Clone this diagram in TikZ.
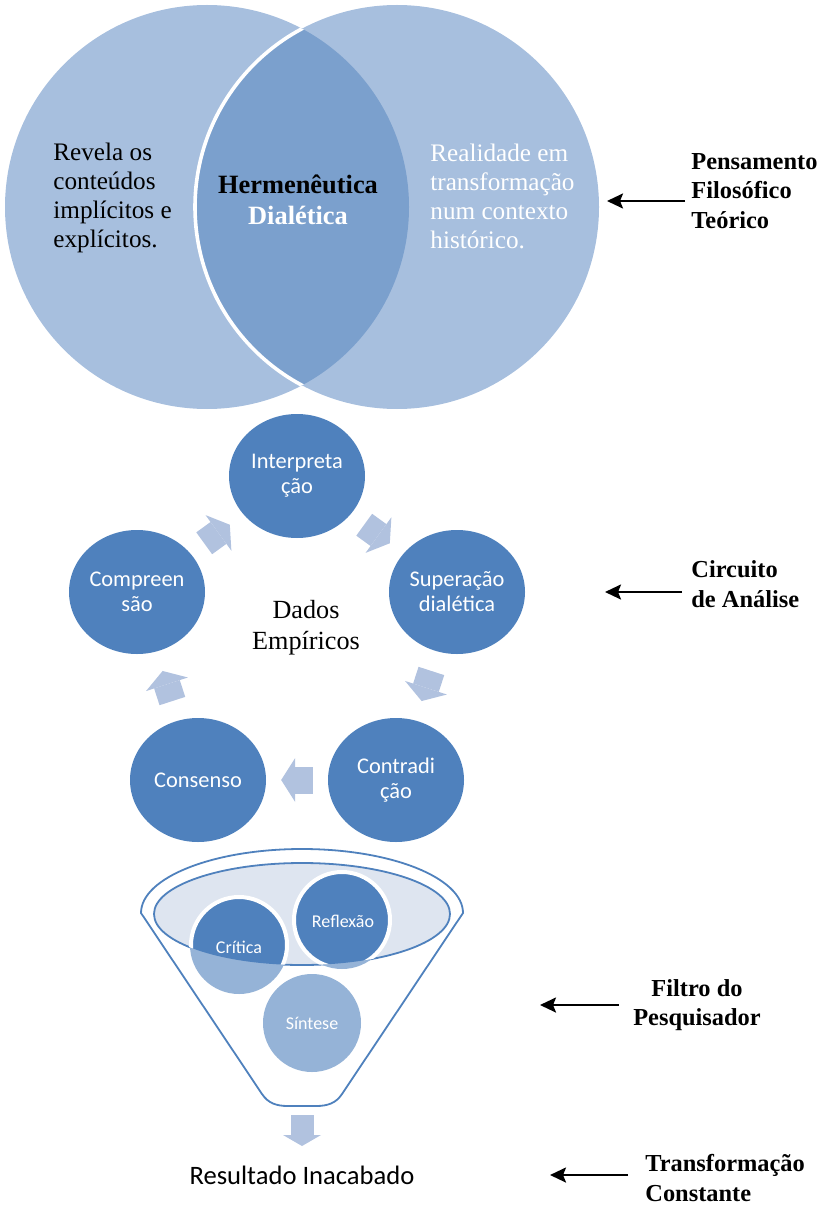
\documentclass[tikz,border=0pt]{standalone}
\usepackage{fontspec}
\setmainfont{Liberation Serif}
\newfontfamily\calibri{Carlito}
\usetikzlibrary{shapes.geometric,arrows.meta,calc,positioning}
\definecolor{vennlight}{RGB}{167,191,222}
\definecolor{venndark}{RGB}{123,160,205}
\definecolor{cycblue}{RGB}{79,129,189}
\definecolor{arrblue}{RGB}{177,194,223}
\definecolor{funlight}{RGB}{149,179,215}
\definecolor{funfill}{RGB}{222,229,240}
\tikzstyle{venntext} = [align=left, anchor=west, inner sep=0pt, font=\fontsize{12.6}{14.5}\selectfont]
\tikzstyle{cyc} = [ellipse, minimum width=68pt, minimum height=62pt, inner sep=0pt, fill=cycblue, text=white, align=center, font=\calibri\fontsize{11.2}{12.5}\selectfont]
\tikzstyle{blockarr} = [arrblue, line width=13.5pt, -{Triangle[length=7pt,width=22pt,line width=0pt]}]
\tikzstyle{downarr} = [arrblue, line width=11.5pt, -{Triangle[length=5.5pt,width=19pt,line width=0pt]}]
\tikzstyle{funline} = [draw=cycblue, line width=0.9pt]
\tikzstyle{filtro} = [text=white, inner sep=0pt, font=\calibri\fontsize{9}{11}\selectfont]
\tikzstyle{rlabel} = [anchor=west, inner sep=0pt, font=\bfseries\fontsize{12.2}{14.7}\selectfont]
\tikzstyle{arrow} = [line width=1.2pt, -{Stealth[length=8pt,width=7.5pt,inset=1.5pt]}]

\begin{document}
\begin{tikzpicture}[x=0.5pt, y=-0.5pt]
\useasboundingbox (0,0) rectangle (828,1208);

\fill[vennlight] (207,207) circle (202);
\fill[vennlight] (397,207) circle (202);
\begin{scope}
\clip (207,207) circle (202);
\fill[venndark] (397,207) circle (202);
\draw[white, line width=1.8pt] (397,207) circle (202);
\end{scope}

\node (revela) [venntext] at (53,198) {Revela os\\conteúdos\\implícitos e\\explícitos.};
\node (realid) [venntext, text=white] at (430,196) {Realidade em\\transformação\\num contexto\\histórico.};
\node (herm) [align=center, inner sep=0pt, font=\bfseries\fontsize{13.2}{15.5}\selectfont] at (298,200) {Hermenêutica\\\textcolor{white}{Dialética}};

\node (int) [cyc] at (297,476) {Interpreta\\ção};
\node (cmp) [cyc] at (137,592) {Compreen\\são};
\node (sup) [cyc] at (457,592) {Superação\\dialética};
\node (cns) [cyc] at (198,780) {Consenso};
\node (ctr) [cyc] at (396,780) {Contradi\\ção};
\node (dados) [align=center, inner sep=0pt, font=\fontsize{13.1}{15.5}\selectfont] at (306,628) {Dados\\Empíricos};

\draw [blockarr] ($(cmp)!0.42!(int)$) -- ($(cmp)!0.58!(int)$);
\draw [blockarr] ($(int)!0.42!(sup)$) -- ($(int)!0.58!(sup)$);
\draw [blockarr] ($(sup)!0.42!(ctr)$) -- ($(sup)!0.58!(ctr)$);
\draw [blockarr] ($(ctr)!0.42!(cns)$) -- ($(ctr)!0.58!(cns)$);
\draw [blockarr] ($(cns)!0.42!(cmp)$) -- ($(cns)!0.58!(cmp)$);

\draw [funline, fill=white] (141,913) -- (262,1094) .. controls (268,1103) and (276,1106) .. (288,1106) -- (316,1106) .. controls (328,1106) and (336,1103) .. (342,1094) -- (463,913) arc[start angle=0, end angle=-180, x radius=161, y radius=64] -- cycle;
\filldraw [funline, fill=funfill] (302,914) ellipse [x radius=148, y radius=51];
\fill[funlight] (239,945) circle (49);
\fill[funlight] (342,920) circle (49);
\fill[funlight] (312,1023) circle (49);
\begin{scope}
\clip (302,914) ellipse [x radius=148, y radius=51];
\filldraw[fill=cycblue, draw=white, line width=2pt] (239,945) circle (48);
\filldraw[fill=cycblue, draw=white, line width=2pt] (342,920) circle (48);
\end{scope}
\node (cri) [filtro] at (239,947) {Crítica};
\node (ref) [filtro] at (343,921) {Reflexão};
\node (sin) [filtro] at (312,1023) {Síntese};

\coordinate (fbot) at (302,1115);
\coordinate (fout) at (302,1146);
\draw [downarr] (fbot) -- (fout);
\node (res) [font=\calibri\fontsize{13.3}{16}\selectfont] at (302,1175) {Resultado Inacabado};

\node (pens) [rlabel, align=left] at (691,191) {Pensamento\\Filosófico\\Teórico};
\node (circ) [rlabel, align=left] at (691,584) {Circuito\\de Análise};
\node (filt) [rlabel, align=center, anchor=center] at (697,1005) {Filtro do\\Pesquisador};
\node (transf) [rlabel, align=left] at (645,1178) {Transformação\\Constante};

\coordinate (t1) at (607,201);
\coordinate (t2) at (605,592);
\coordinate (t3) at (540,1005);
\coordinate (t4) at (550,1175);
\draw [arrow, shorten <=3pt] (pens.west |- t1) -- (t1);
\draw [arrow, shorten <=4.5pt] (circ.west |- t2) -- (t2);
\draw [arrow, shorten <=7pt] (filt.west |- t3) -- (t3);
\draw [arrow, shorten <=8.5pt] (transf.west |- t4) -- (t4);
\end{tikzpicture}
\end{document}
